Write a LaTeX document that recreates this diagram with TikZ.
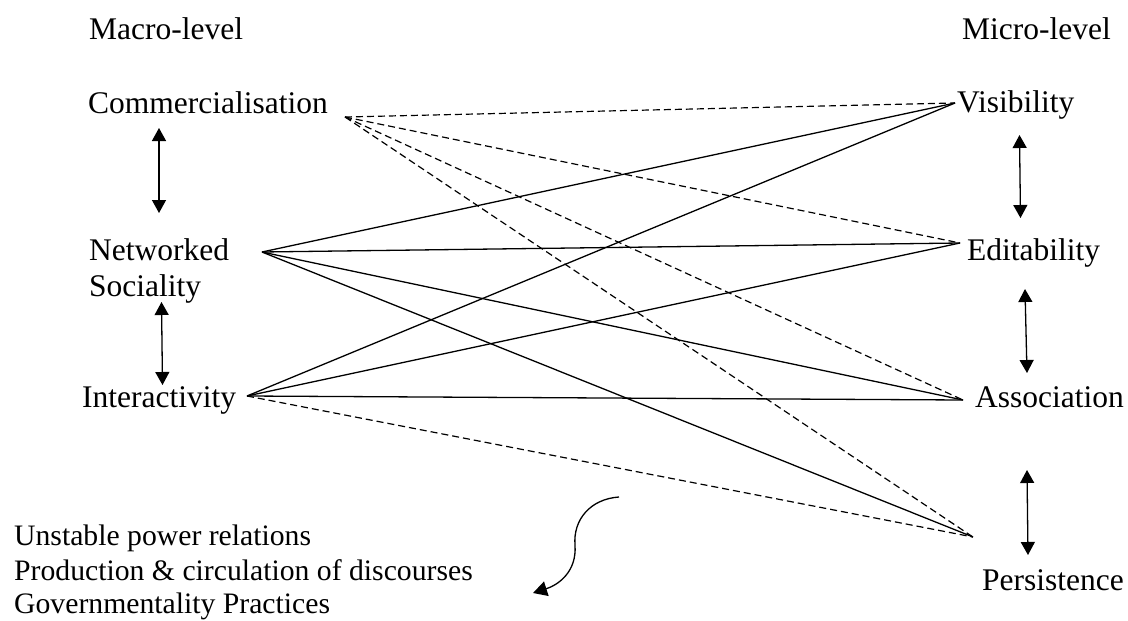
\documentclass[tikz,border=0pt]{standalone}
\usepackage{fontspec}
\setmainfont{Liberation Serif}
\usetikzlibrary{arrows.meta}

\tikzset{
  lbl/.style={anchor=base west, inner sep=0pt, font=\fontsize{31.5}{36}\selectfont},
  outlbl/.style={lbl, font=\fontsize{29.7}{34}\selectfont},
  link/.style={line width=1.3pt},
  dlink/.style={line width=1.2pt, dash pattern=on 7pt off 4pt},
  both/.style={line width=1.3pt, {Triangle[length=13pt,width=14pt]}-{Triangle[length=13pt,width=14pt]}},
  curvearrow/.style={line width=1.3pt, -{Triangle[length=14pt,width=15pt]}}
}

\begin{document}
\begin{tikzpicture}[x=1pt, y=-1pt]
\useasboundingbox (0,0) rectangle (1128,621);

% column headings
\node[lbl] (macro) at (89,39) {Macro-level};
\node[lbl] (micro) at (962,39) {Micro-level};

% macro-level factors
\node[lbl] (comm) at (88,113) {Commercialisation};
\node[lbl] (netw) at (89,260) {Networked};
\node[lbl] (soc)  at (89,296) {Sociality};
\node[lbl] (inter) at (82,407) {Interactivity};

% micro-level affordances
\node[lbl] (vis)  at (957,112) {Visibility};
\node[lbl] (edit) at (967,260) {Editability};
\node[lbl] (assoc) at (975,407) {Association};
\node[lbl] (pers) at (982,590) {Persistence};

% outcomes
\node[outlbl] (out1) at (14,545) {Unstable power relations};
\node[outlbl] (out2) at (14,580) {Production \& circulation of discourses};
\node[outlbl] (out3) at (14,613) {Governmentality Practices};

% connection points beside the labels
\coordinate (pC) at (345,117);
\coordinate (pN) at (262,252);
\coordinate (pI) at (247,396);
\coordinate (pV) at (955,103);
\coordinate (pE) at (960,243);
\coordinate (pA) at (963,400);
\coordinate (pP) at (973,537);

% commercialisation links
\draw[dlink] (pC) -- (pV);
\draw[dlink] (pC) -- (pE);
\draw[dlink] (pC) -- (pA);
\draw[dlink] (pC) -- (pP);

% networked sociality links
\draw[link] (pN) -- (pV);
\draw[link] (pN) -- (pE);
\draw[link] (pN) -- (pA);
\draw[link] (pN) -- (pP);

% interactivity links
\draw[link] (pI) -- (pV);
\draw[link] (pI) -- (pE);
\draw[link] (pI) -- (pA);
\draw[dlink] (pI) -- (pP);

% two-way arrows between neighbouring levels
\coordinate (m1a) at (159,128); \coordinate (m1b) at (159,213);
\coordinate (m2a) at (161.5,302); \coordinate (m2b) at (162.5,385);
\coordinate (r1a) at (1019.5,135); \coordinate (r1b) at (1020.5,218);
\coordinate (r2a) at (1025,289); \coordinate (r2b) at (1027,373);
\coordinate (r3a) at (1027,470); \coordinate (r3b) at (1028,555);
\draw[both] (m1a) -- (m1b);
\draw[both] (m2a) -- (m2b);
\draw[both] (r1a) -- (r1b);
\draw[both] (r2a) -- (r2b);
\draw[both] (r3a) -- (r3b);

% curved arrow towards the outcomes
\coordinate (cs) at (619,497);
\coordinate (cm) at (575,545);
\coordinate (ce) at (533,593);
\draw[curvearrow] (cs) .. controls (590,499) and (573,520) .. (cm)
                       .. controls (577,572) and (558,585) .. (ce);
\end{tikzpicture}
\end{document}
